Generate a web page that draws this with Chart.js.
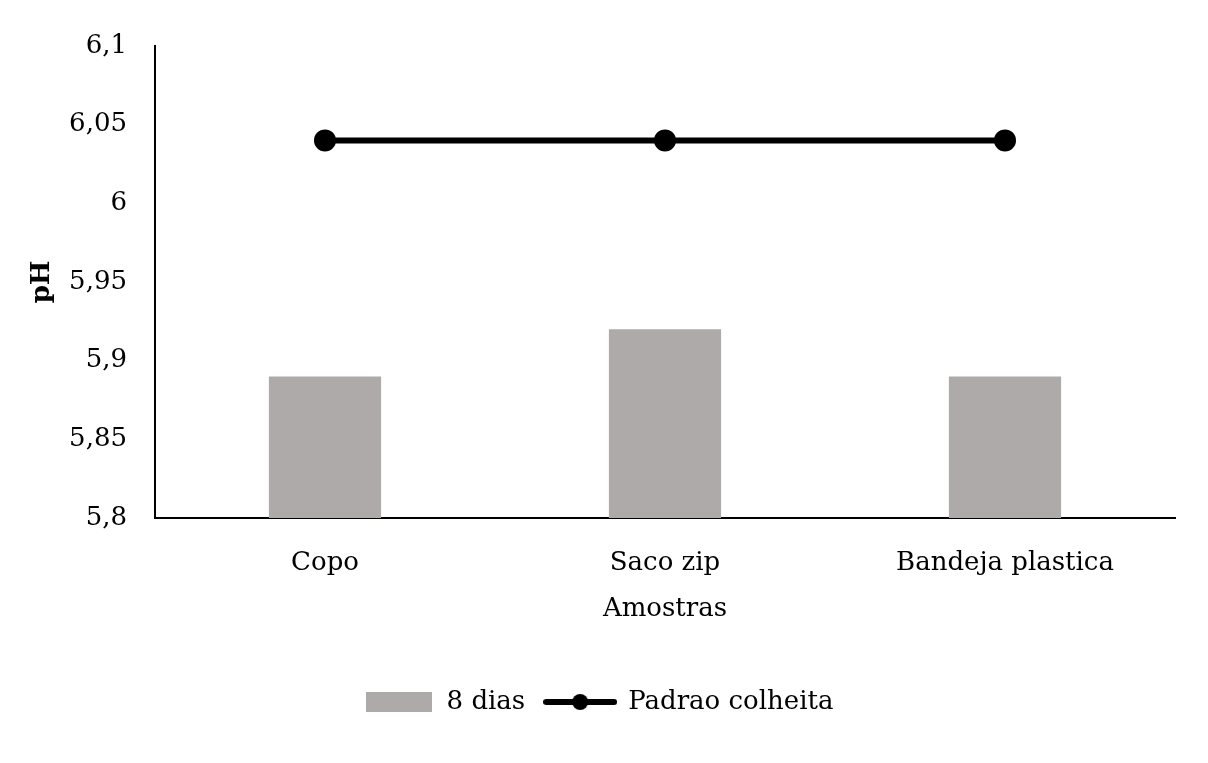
<!DOCTYPE html>
<html lang="pt-br">
<head>
<meta charset="UTF-8">
<title>pH das amostras</title>
<script src="https://cdn.jsdelivr.net/npm/chart.js"></script>
<style>
  html, body { margin: 0; padding: 0; background: #fff; }
  .grafico { position: relative; width: 1208px; height: 763px; }
</style>
</head>
<body>
<div class="grafico">
  <canvas id="graficoPh" width="1208" height="763"></canvas>
</div>
<script>
// dados
var categorias = ["Copo", "Saco zip", "Bandeja plastica"];
var oitoDias = [5.89, 5.92, 5.89];
var padraoColheita = [6.04, 6.04, 6.04];
var ticksY = [5.8, 5.85, 5.9, 5.95, 6, 6.05, 6.1];

var corBarra = '#aeaaaa';
var corLinha = '#000000';
var fonte = "'DejaVu Serif', 'Liberation Serif', serif";
var tamFonte = 26;

// icones da legenda (caixa cinza e linha com ponto)
function iconeBarra() {
  var c = document.createElement('canvas');
  c.width = 66; c.height = 20;
  var ctx = c.getContext('2d');
  ctx.fillStyle = corBarra;
  ctx.fillRect(0, 0, 66, 20);
  return c;
}
function iconeLinha() {
  var c = document.createElement('canvas');
  c.width = 74; c.height = 18;
  var ctx = c.getContext('2d');
  ctx.strokeStyle = corLinha;
  ctx.lineWidth = 6;
  ctx.lineCap = 'round';
  ctx.beginPath();
  ctx.moveTo(3, 9); ctx.lineTo(71, 9);
  ctx.stroke();
  ctx.fillStyle = corLinha;
  ctx.beginPath();
  ctx.arc(37, 9, 8, 0, Math.PI * 2);
  ctx.fill();
  return c;
}
var icones = [iconeBarra(), iconeLinha()];

Chart.defaults.font.family = fonte;
Chart.defaults.color = '#000';

var dados = {
  labels: categorias,
  datasets: [
    {
      type: 'line',
      label: 'Padrao colheita',
      data: padraoColheita,
      borderColor: corLinha,
      backgroundColor: corLinha,
      borderWidth: 6,
      pointRadius: 8,
      pointHoverRadius: 8,
      fill: false,
      order: 0
    },
    {
      type: 'bar',
      label: '8 dias',
      data: oitoDias,
      backgroundColor: corBarra,
      barPercentage: 0.33,
      categoryPercentage: 1,
      order: 1
    }
  ]
};

var config = {
  data: dados,
  options: {
    responsive: false,
    animation: false,
    layout: { padding: { top: 46, right: 33, left: 22, bottom: 38 } },
    plugins: {
      tooltip: { enabled: false },
      legend: {
        position: 'bottom',
        labels: {
          usePointStyle: true,
          pointStyleWidth: 70,
          boxHeight: 20,
          padding: 20,
          font: { size: tamFonte },
          generateLabels: function (chart) {
            // ordem da legenda: barras primeiro, depois a linha
            var ordem = [1, 0];
            return ordem.map(function (i, k) {
              var ds = chart.data.datasets[i];
              return {
                text: ds.label,
                datasetIndex: i,
                pointStyle: icones[k],
                fillStyle: ds.backgroundColor,
                strokeStyle: ds.borderColor,
                lineWidth: 0,
                hidden: false
              };
            });
          }
        }
      }
    },
    scales: {
      x: {
        grid: { display: false, drawTicks: false },
        border: { color: '#000', width: 2 },
        ticks: { padding: 30, font: { size: tamFonte } },
        title: { display: true, text: 'Amostras', font: { size: tamFonte }, padding: { top: 2, bottom: 44 } },
        afterFit: function (s) { s.height = 151; }
      },
      y: {
        min: 5.8,
        max: 6.1,
        grid: { display: false, drawTicks: false },
        border: { color: '#000', width: 2 },
        afterBuildTicks: function (s) {
          s.ticks = ticksY.map(function (v) { return { value: v }; });
        },
        ticks: {
          padding: 28,
          font: { size: tamFonte },
          callback: function (v) { return String(+v.toFixed(2)).replace('.', ','); }
        },
        title: { display: true, text: 'pH', font: { size: tamFonte, weight: 'bold' }, padding: { top: 5, bottom: 0 } },
        afterFit: function (s) { s.width = 133; }
      }
    }
  }
};

var grafico = new Chart(document.getElementById('graficoPh'), config);
</script>
</body>
</html>
